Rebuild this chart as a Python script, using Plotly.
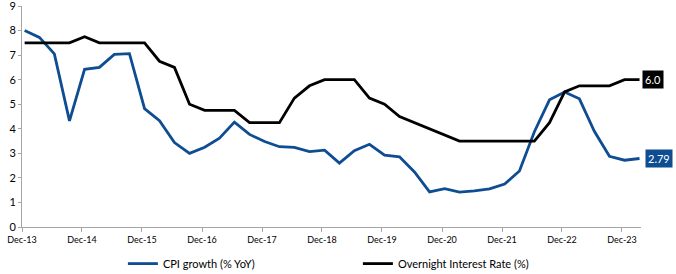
import plotly.graph_objects as go
import pandas as pd

dates = pd.date_range("2013-12-31", "2024-03-31", freq="QE").strftime("%Y-%m-%d").tolist()

cpi = [8.0, 7.72, 7.05, 4.32, 6.42, 6.5, 7.03, 7.06, 4.82, 4.33,
       3.44, 3.0, 3.25, 3.62, 4.27, 3.77, 3.48, 3.27, 3.24, 3.07,
       3.13, 2.6, 3.11, 3.37, 2.93, 2.86, 2.24, 1.43, 1.56, 1.42,
       1.47, 1.55, 1.75, 2.28, 3.88, 5.18, 5.5, 5.22, 3.9, 2.88,
       2.72, 2.79]

rate = [7.5, 7.5, 7.5, 7.5, 7.75, 7.5, 7.5, 7.5, 7.5, 6.75,
        6.5, 5.0, 4.75, 4.75, 4.75, 4.25, 4.25, 4.25, 5.25, 5.75,
        6.0, 6.0, 6.0, 5.25, 5.0, 4.5, 4.25, 4.0, 3.75, 3.5,
        3.5, 3.5, 3.5, 3.5, 3.5, 4.25, 5.5, 5.75, 5.75, 5.75,
        6.0, 6.0]

tick_vals = [f"{y}-12-15" for y in range(2013, 2024)]
tick_text = [f"Dec-{y % 100:02d}" for y in range(2013, 2024)]
y_ticks = list(range(0, 10))

BLUE = "#0E4D92"
BLACK = "#000000"
FONT = "Lato"

fig = go.Figure()
fig.add_trace(go.Scatter(x=dates, y=cpi, mode="lines", name="CPI growth (% YoY)",
                         line=dict(color=BLUE, width=2.8)))
fig.add_trace(go.Scatter(x=dates, y=rate, mode="lines", name="Overnight Interest Rate (%)",
                         line=dict(color=BLACK, width=2.8)))

fig.add_annotation(x=dates[-1], y=rate[-1], xref="x", yref="y", text=f"{rate[-1]:.1f}",
                   showarrow=False, xanchor="left", xshift=2, bgcolor=BLACK,
                   font=dict(color="white", size=11, family=FONT), borderpad=2)
fig.add_annotation(x=dates[-1], y=cpi[-1], xref="x", yref="y", text=f"{cpi[-1]:.2f}",
                   showarrow=False, xanchor="left", xshift=5, bgcolor=BLUE,
                   font=dict(color="white", size=11, family=FONT), borderpad=2)

fig.update_layout(
    width=676, height=274,
    margin=dict(l=22, r=35, t=6, b=47, autoexpand=False),
    paper_bgcolor="white", plot_bgcolor="white",
    font=dict(family=FONT, size=11, color="#000000"),
    showlegend=True,
    legend=dict(orientation="h", x=0.163, xanchor="left", y=-0.1, yanchor="top",
                font=dict(size=11, family=FONT), itemwidth=30, entrywidth=190,
                entrywidthmode="pixels", bgcolor="rgba(0,0,0,0)"),
    xaxis=dict(type="date", range=["2013-12-15", "2024-04-09"], automargin=False,
               tickvals=tick_vals, ticktext=tick_text, tickfont=dict(size=9, family=FONT),
               showgrid=False, zeroline=False, showline=True, linecolor="#A6A6A6", linewidth=1,
               ticks="outside", ticklen=4, tickcolor="#A6A6A6"),
    yaxis=dict(range=[0, 9], tickvals=y_ticks, tickfont=dict(size=11, family=FONT), automargin=False,
               showgrid=False, zeroline=False, showline=True, linecolor="#A6A6A6", linewidth=1,
               ticks="outside", ticklen=3, tickcolor="#A6A6A6",
               ticklabeloverflow="allow"),
)

fig.write_html("out.html", config={"displayModeBar": False},
               post_script="document.body.style.margin='0';document.body.style.overflow='hidden';")
